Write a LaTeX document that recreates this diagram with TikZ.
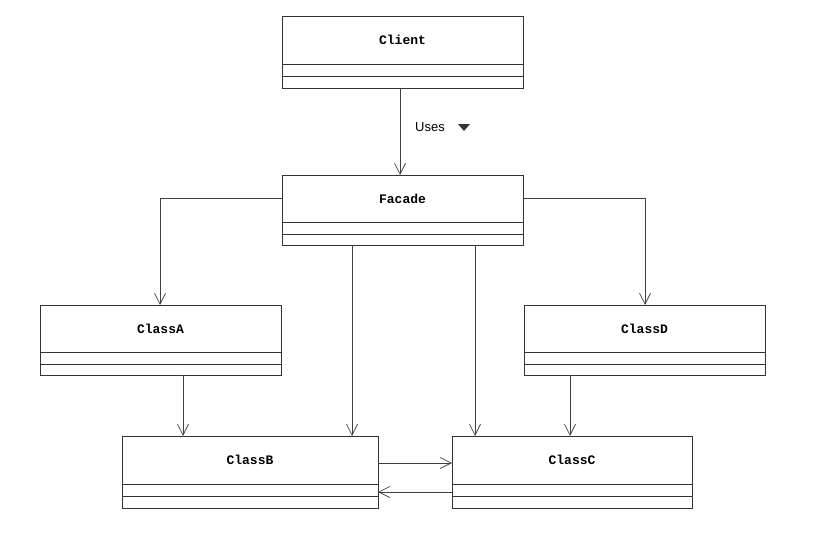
\documentclass[tikz,border=0pt]{standalone}
\usepackage{fontspec}
\setmainfont{Liberation Sans}
\newfontfamily\cmono{Liberation Mono}
\usetikzlibrary{arrows.meta}
\begin{document}
\begin{tikzpicture}[x=1pt,y=-1pt,
  cls/.style={draw=black!80,line width=0.8pt},
  conn/.style={draw=black!75,line width=0.7pt,-{Straight Barb[length=11pt,width=11pt,line width=0.7pt]}},
  ttl/.style={font=\cmono\bfseries\fontsize{13}{15}\selectfont}]
\useasboundingbox (0,0) rectangle (822,543);
\newcommand{\umlbox}[7]{%
  \draw[cls] (#2,#3) rectangle (#4,#5);
  \draw[cls] (#2,#6) -- (#4,#6);
  \draw[cls] (#2,#7) -- (#4,#7);
  \node[ttl,inner sep=0] at ({(#2+#4)/2},{(#3+#6)/2}) {#1};
  \coordinate (#1-nw) at (#2,#3);
}
\umlbox{Client}{282}{16}{523}{88}{64}{76}
\umlbox{Facade}{282}{175}{523}{245}{222}{234}
\umlbox{ClassA}{40}{305}{281}{375}{352}{364}
\umlbox{ClassD}{524}{305}{765}{375}{352}{364}
\umlbox{ClassB}{122}{436}{378}{508}{484}{496}
\umlbox{ClassC}{452}{436}{692}{508}{484}{496}
\coordinate (c1) at (400,88); \coordinate (f1) at (400,175);
\draw[conn] (c1) -- (f1);
\node[font=\fontsize{13}{15}\selectfont,anchor=west,inner sep=0] (uses) at (415,127) {Uses};
\fill[black!80] (458,124) -- (470,124) -- (464,131) -- cycle;
\coordinate (fl) at (282,198); \coordinate (at) at (160,305);
\draw[conn] (fl) -| (at);
\coordinate (fr) at (523,198); \coordinate (dt) at (645,305);
\draw[conn] (fr) -| (dt);
\coordinate (fb1) at (352,245); \coordinate (bt1) at (352,436);
\draw[conn] (fb1) -- (bt1);
\coordinate (fb2) at (475,245); \coordinate (ct1) at (475,436);
\draw[conn] (fb2) -- (ct1);
\coordinate (ab) at (183,375); \coordinate (bt2) at (183,436);
\draw[conn] (ab) -- (bt2);
\coordinate (db) at (570,375); \coordinate (ct2) at (570,436);
\draw[conn] (db) -- (ct2);
\coordinate (br) at (378,463); \coordinate (cl) at (452,463);
\draw[conn] (br) -- (cl);
\coordinate (cl2) at (452,492); \coordinate (br2) at (378,492);
\draw[conn] (cl2) -- (br2);
\end{tikzpicture}
\end{document}
